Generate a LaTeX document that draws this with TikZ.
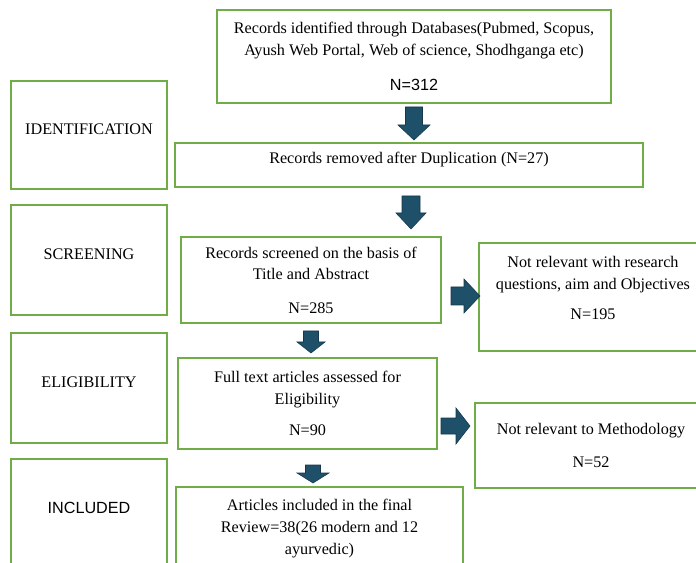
\documentclass[tikz,border=0pt]{standalone}
\usepackage{fontspec}
\setmainfont{Liberation Serif}
\setsansfont{Liberation Sans}
\definecolor{boxgreen}{HTML}{70AD47}
\definecolor{arrowblue}{HTML}{1F5069}

\begin{document}
\begin{tikzpicture}[
    x=0.025cm,
    y=-0.025cm,
    box/.style = {
      draw = boxgreen,
      line width = 1.3pt,
      align = center,
      inner sep = 0pt,
      font = \fontsize{11.5pt}{15.6pt}\selectfont
    },
    stage/.style = {
      box,
      minimum width = 3.9cm,
      minimum height = 2.75cm,
      text depth = 0.3cm
    },
    arr/.style = {
      fill = arrowblue,
      draw = arrowblue!70!black,
      line width = 0.4pt
    }
  ]
  \clip (0,0) rectangle (696,563);

  \node[box, minimum width=9.85cm, minimum height=2.325cm] (found) at (414,56.5)
    {Records identified through Databases(Pubmed, Scopus,\\Ayush Web Portal, Web of science, Shodhganga etc)\\[9pt]{\sffamily N=312}};
  \node[stage, minimum height=2.7cm] (ident) at (89,135) {IDENTIFICATION};
  \node[box, minimum width=11.7cm, minimum height=1.1cm, text depth=0.35cm] (dup) at (409,165)
    {Records removed after Duplication (N=27)};

  \node[stage] (screen) at (89,260) {SCREENING};
  \node[box, minimum width=6.5cm, minimum height=2.15cm] (screened) at (311,280)
    {Records screened on the basis of\\Title and Abstract\\[8pt]N=285};
  \node[box, minimum width=5.7cm, minimum height=2.7cm, text depth=0.45cm] (notres) at (593,297)
    {Not relevant with research\\questions, aim and Objectives\\[6pt]N=195};

  \node[stage] (elig) at (89,388) {ELIGIBILITY};
  \node[box, minimum width=6.475cm, minimum height=2.275cm] (full) at (307.5,403.5)
    {Full text articles assessed for\\Eligibility\\[6pt]N=90};
  \node[box, minimum width=5.8cm, minimum height=2.125cm] (notmeth) at (591,445.5)
    {Not relevant to Methodology\\[8pt]N=52};

  \node[stage, minimum height=2.725cm, font=\fontsize{11.5pt}{15.6pt}\selectfont\sffamily] (incl) at (89,513.5) {INCLUDED};
  \node[box, minimum width=7.175cm, minimum height=2.075cm] (final) at (319.5,528.5)
    {Articles included in the final\\Review=38(26 modern and 12\\ayurvedic)};

  % block arrows
  \draw[arr] (405.5,107) -- (422.5,107) -- (422.5,125) -- (430,125) -- (414,140) -- (398,125) -- (405.5,125) -- cycle;
  \draw[arr] (402,196) -- (420,196) -- (420,213) -- (426,213) -- (411,229) -- (396,213) -- (402,213) -- cycle;
  \draw[arr] (303.5,331) -- (318.5,331) -- (318.5,342) -- (325,342) -- (311,353) -- (297,342) -- (303.5,342) -- cycle;
  \draw[arr] (305.5,465) -- (320.5,465) -- (320.5,473) -- (329,473) -- (313,483) -- (297,473) -- (305.5,473) -- cycle;
  \draw[arr] (451,287) -- (464,287) -- (464,279) -- (480,296) -- (464,313) -- (464,305) -- (451,305) -- cycle;
  \draw[arr] (441,418) -- (456,418) -- (456,408) -- (470,426) -- (456,444) -- (456,434) -- (441,434) -- cycle;
\end{tikzpicture}
\end{document}
